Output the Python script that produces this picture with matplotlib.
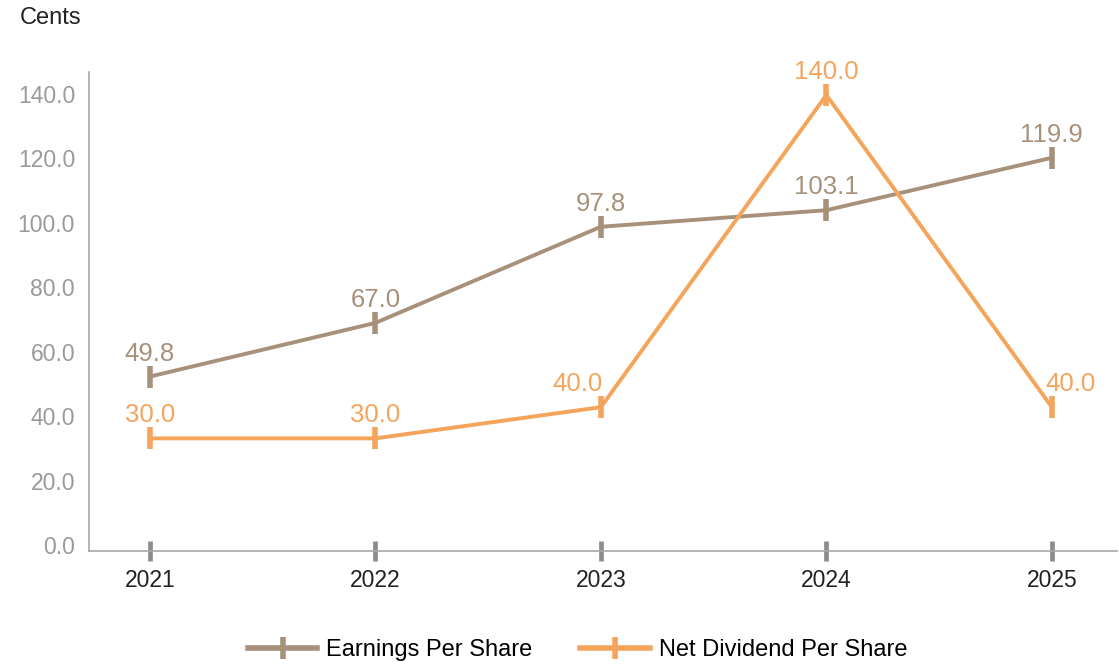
import matplotlib.pyplot as plt
from matplotlib.lines import Line2D

plt.rcParams['font.family'] = ['Liberation Sans', 'DejaVu Sans']

years = ["2021", "2022", "2023", "2024", "2025"]
eps = [49.8, 67.0, 97.8, 103.1, 119.9]
dps = [30.0, 30.0, 40.0, 140.0, 40.0]
y_ticks = [0, 20, 40, 60, 80, 100, 120, 140]

eps_color = '#a8917a'
dps_color = '#f5a45b'
grey = '#9a9a9e'

fig = plt.figure(figsize=(11.19, 6.66), dpi=100)
ax = fig.add_axes([0.0795, 0.1731, 0.9185, 0.7189])

x = list(range(len(years)))

# visible axis (ticks / spines)
ax.set_xlim(-0.2705, 4.288)
ax.set_ylim(-1.77, 146.7)
ax.set_yticks(y_ticks)
ax.set_yticklabels([f"{v:.1f}" for v in y_ticks], color=grey, fontsize=16.5)
ax.tick_params(axis='y', length=0, pad=10)
ax.set_xticks(x)
ax.set_xticklabels(years, fontsize=16.5, color='#222222')
ax.tick_params(axis='x', direction='inout', length=15, width=3.4, color='#8c8c90', pad=6)
for s in ['top', 'right']:
    ax.spines[s].set_visible(False)
for s in ['left', 'bottom']:
    ax.spines[s].set_color('#a8a8a8')
    ax.spines[s].set_linewidth(1.2)

# the series in the original sit on a slightly different vertical scale than the printed ticks
ax2 = ax.twinx()
ax2.set_ylim(-5.99, 147.4)
ax2.axis('off')

ax2.plot(x, eps, color=eps_color, lw=2.8, marker='|', ms=15.5, mew=4)
ax2.plot(x, dps, color=dps_color, lw=2.8, marker='|', ms=15.5, mew=4)

for xi, v in zip(x, eps):
    ax2.annotate(f"{v:.1f}", (xi, v), xytext=(0, 11.5), textcoords='offset points',
                 ha='center', va='baseline', fontsize=18.5, color=eps_color)

# dividend labels: nudged sideways where the line would run through them
dps_align = ['center', 'center', 'right', 'center', 'left']
dps_dx = [0, 0, 1, 0, -4.5]
for xi, v, ha, dx in zip(x, dps, dps_align, dps_dx):
    ax2.annotate(f"{v:.1f}", (xi, v), xytext=(dx, 11.5), textcoords='offset points',
                 ha=ha, va='baseline', fontsize=18.5, color=dps_color)

fig.text(20 / 1119, 1 - 18 / 666, "Cents", fontsize=17, color='#222222', va='center', ha='left')

handles = [
    Line2D([], [], color=eps_color, lw=4, marker='|', ms=16, mew=4, label="Earnings Per Share"),
    Line2D([], [], color=dps_color, lw=4, marker='|', ms=16, mew=4, label="Net Dividend Per Share"),
]
fig.legend(handles=handles, loc='center', bbox_to_anchor=(0.516, 1 - 650 / 666), ncol=2,
           frameon=False, fontsize=17, handlelength=2.95, handletextpad=0.38,
           columnspacing=2.0)

fig.savefig("out.png", dpi=100)
